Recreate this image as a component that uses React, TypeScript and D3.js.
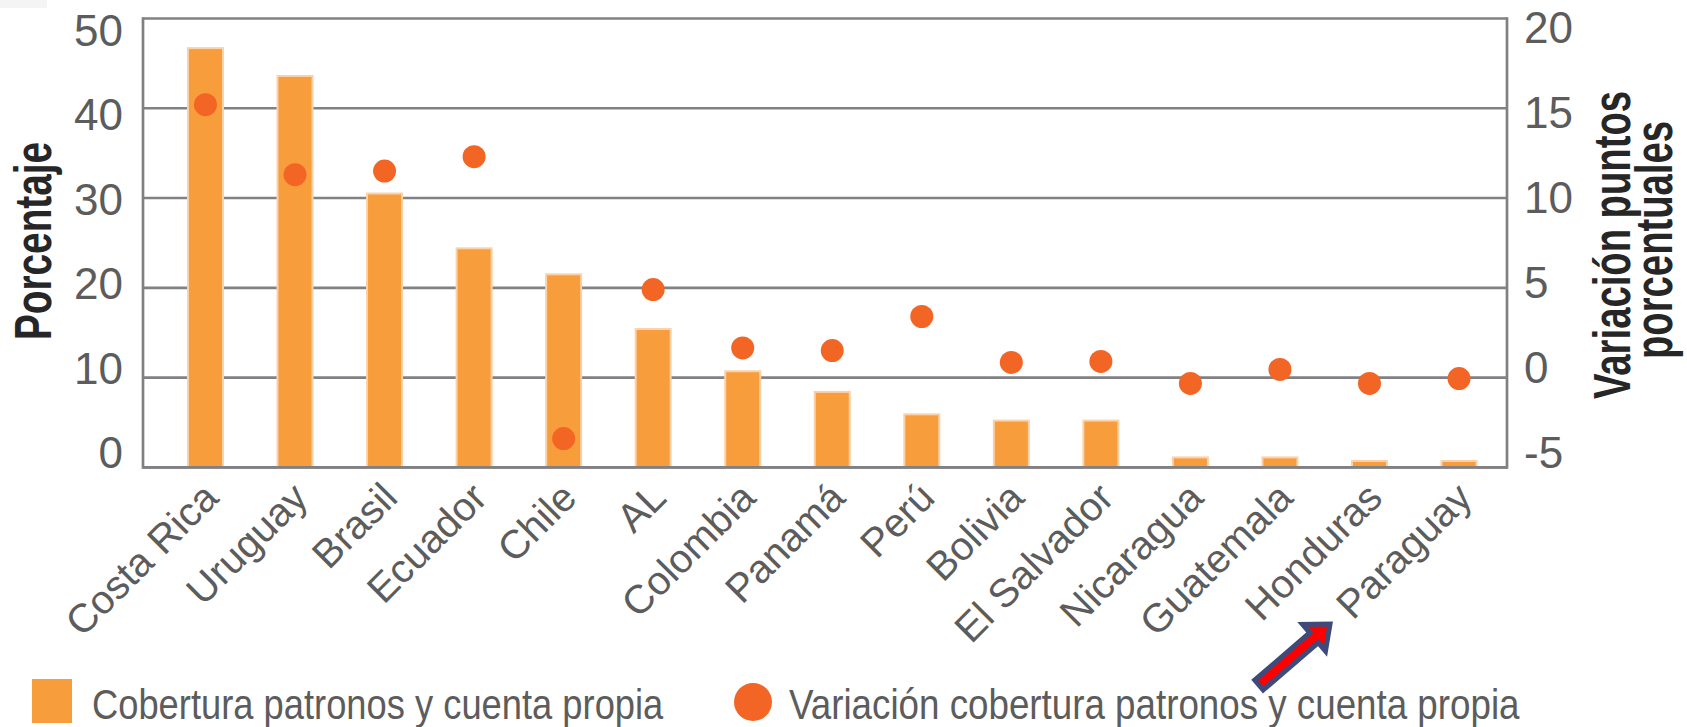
import React from "react";
import * as d3 from "d3";

const countries = [
  "Costa Rica", "Uruguay", "Brasil", "Ecuador", "Chile", "AL", "Colombia", "Panamá",
  "Perú", "Bolivia", "El Salvador", "Nicaragua", "Guatemala", "Honduras", "Paraguay",
];
const coverage = [46.7, 43.6, 30.5, 24.4, 21.5, 15.4, 10.7, 8.4, 5.9, 5.2, 5.2, 1.1, 1.1, 0.7, 0.7];
const variation = [15.2, 11.3, 11.5, 12.3, -3.4, 4.9, 1.65, 1.5, 3.4, 0.84, 0.9, -0.33, 0.45, -0.33, -0.06];
const leftTicks = [0, 10, 20, 30, 40, 50];
const rightTicks = [-5, 0, 5, 10, 15, 20];
const leftTitle = "Porcentaje";
const rightTitle = ["Variación puntos", "porcentuales"];
const legendBar = "Cobertura patronos y cuenta propia";
const legendDot = "Variación cobertura patronos y cuenta propia";

const W = 1687;
const H = 727;
const frameL = 143;
const frameR = 1507;
const top = 18.5;
const bottom = 467.3;

const BAR = "#F89D3C";
const BAR_EDGE = "#FBD1AA";
const DOT = "#F26524";
const GRID = "#818085";
const TXT = "#5c5c5c";
const TITLE = "#262626";
const FONT = "'Liberation Sans', Arial, sans-serif";

export default function App() {
  const x = d3.scaleBand<string>().domain(countries).range([160.7, 1503.8]);
  const yL = d3.scaleLinear().domain([0, 50]).range([bottom, top]);
  const yR = d3.scaleLinear().domain([-5, 20]).range([bottom, top]);
  // tick label baselines (labels in the source are spaced slightly tighter than the grid)
  const yLabL = d3.scaleLinear().domain([0, 50]).range([468.3, 46]);
  const yLabR = d3.scaleLinear().domain([-5, 20]).range([468.3, 42.7]);
  const bw = 35;

  // arrow annotation
  const tail = [1259, 685];
  const tip = [1330, 624];
  const dx = tip[0] - tail[0];
  const dy = tip[1] - tail[1];
  const len = Math.hypot(dx, dy);
  const u = [dx / len, dy / len];
  const n = [-u[1], u[0]];
  const headLen = 21;
  const base = [tip[0] - u[0] * headLen, tip[1] - u[1] * headLen];
  const sw = 6.5;
  const hw = 17.5;
  const pts = [
    [tail[0] + n[0] * sw, tail[1] + n[1] * sw],
    [base[0] + n[0] * sw, base[1] + n[1] * sw],
    [base[0] + n[0] * hw, base[1] + n[1] * hw],
    tip,
    [base[0] - n[0] * hw, base[1] - n[1] * hw],
    [base[0] - n[0] * sw, base[1] - n[1] * sw],
    [tail[0] - n[0] * sw, tail[1] - n[1] * sw],
  ];

  return (
    <svg
      width={W}
      height={H}
      style={{ position: "absolute", left: 0, top: 0, display: "block", background: "#fff" }}
      fontFamily={FONT}
    >
      <rect x={0} y={0} width={47} height={8} fill="#f4f4f4" />
      {/* grid */}
      {leftTicks.map((t) => (
        <line key={"g" + t} x1={frameL} x2={frameR} y1={yL(t)} y2={yL(t)} stroke={GRID} strokeWidth={2.7} />
      ))}
      <line x1={frameL} x2={frameL} y1={top - 1.35} y2={bottom + 1.35} stroke={GRID} strokeWidth={2.7} />
      <line x1={frameR} x2={frameR} y1={top - 1.35} y2={bottom + 1.35} stroke={GRID} strokeWidth={2.7} />

      {/* bars */}
      {countries.map((c, i) => {
        const cx = (x(c) as number) + x.bandwidth() / 2;
        return (
          <rect
            key={"b" + c}
            x={cx - bw / 2}
            y={yL(coverage[i])}
            width={bw}
            height={bottom - yL(coverage[i])}
            fill={BAR}
            stroke={BAR_EDGE}
            strokeWidth={2}
          />
        );
      })}
      <line x1={frameL} x2={frameR} y1={bottom} y2={bottom} stroke={GRID} strokeWidth={2.7} />

      {/* dots */}
      {countries.map((c, i) => {
        const cx = (x(c) as number) + x.bandwidth() / 2;
        return <circle key={"d" + c} cx={cx} cy={yR(variation[i])} r={11.5} fill={DOT} />;
      })}

      {/* left tick labels */}
      {leftTicks.map((t) => (
        <text key={"l" + t} x={123} y={yLabL(t)} textAnchor="end" fontSize={44} fill={TXT}>
          {t}
        </text>
      ))}
      {/* right tick labels */}
      {rightTicks.map((t) => (
        <text key={"r" + t} x={1524} y={yLabR(t)} textAnchor="start" fontSize={44} fill={TXT}>
          {t}
        </text>
      ))}

      {/* x labels */}
      {countries.map((c) => {
        const cx = (x(c) as number) + x.bandwidth() / 2;
        return (
          <text
            key={"x" + c}
            transform={`translate(${cx + 15},${500}) rotate(-45)`}
            textAnchor="end"
            fontSize={40}
            fill={TXT}
          >
            {c}
          </text>
        );
      })}

      {/* axis titles */}
      <text
        transform={`translate(51,241) rotate(-90) scale(0.76,1)`}
        textAnchor="middle"
        fontSize={51}
        fontWeight="bold"
        fill={TITLE}
      >
        {leftTitle}
      </text>
      <text
        transform={`translate(1630,245) rotate(-90) scale(0.75,1)`}
        textAnchor="middle"
        fontSize={51}
        fontWeight="bold"
        fill={TITLE}
      >
        {rightTitle[0]}
      </text>
      <text
        transform={`translate(1672,240) rotate(-90) scale(0.75,1)`}
        textAnchor="middle"
        fontSize={51}
        fontWeight="bold"
        fill={TITLE}
      >
        {rightTitle[1]}
      </text>

      {/* legend */}
      <rect x={32} y={679} width={40} height={44} fill={BAR} />
      <text transform={`translate(92,719) scale(0.865,1)`} fontSize={42} fill={TXT}>
        {legendBar}
      </text>
      <circle cx={753} cy={702} r={19} fill={DOT} />
      <text transform={`translate(789,719) scale(0.875,1)`} fontSize={42} fill={TXT}>
        {legendDot}
      </text>

      {/* arrow annotation */}
      <polygon
        points={pts.map((p) => p.join(",")).join(" ")}
        fill="#FF0000"
        stroke="#3E4A7A"
        strokeWidth={5}
        strokeLinejoin="miter"
      />
    </svg>
  );
}
